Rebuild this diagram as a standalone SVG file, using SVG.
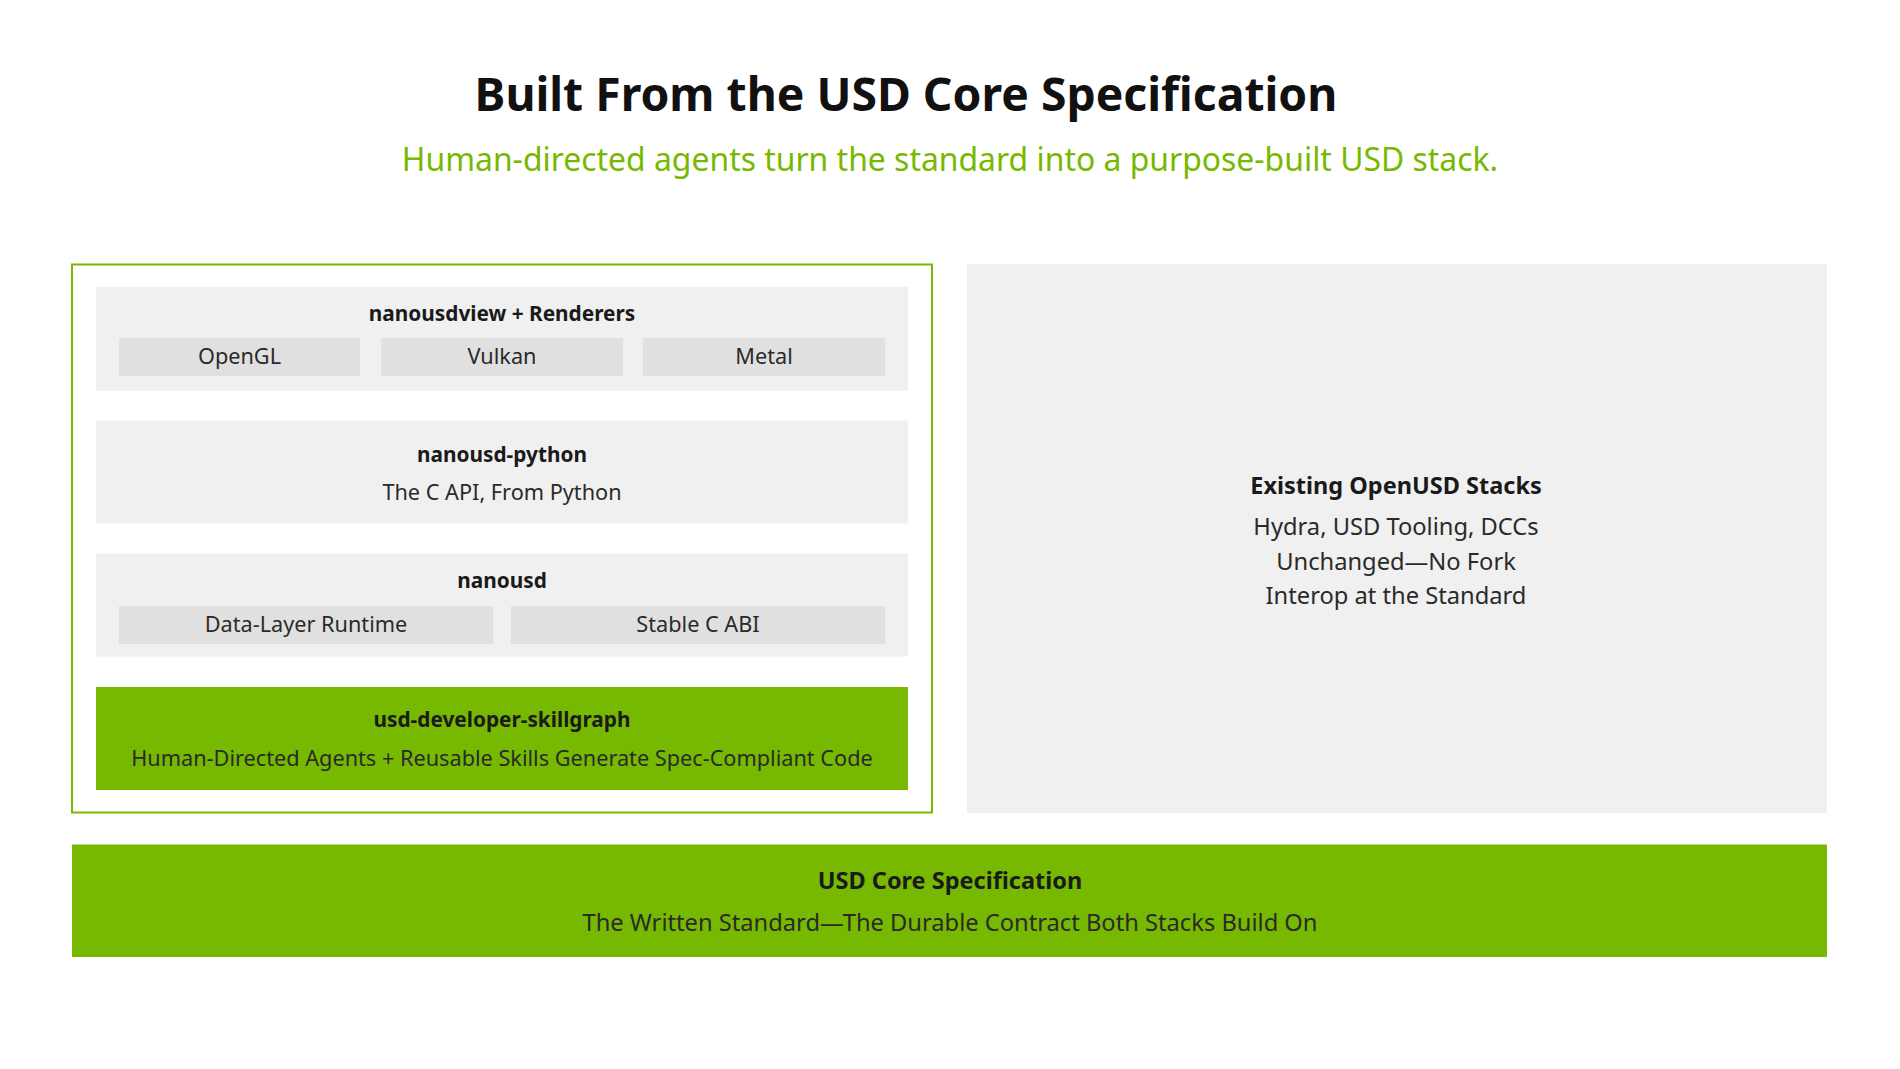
<svg xmlns="http://www.w3.org/2000/svg" width="1900" height="1069" viewBox="0 0 1900 1069">
<style>
text{font-family:"Noto Sans","DejaVu Sans",sans-serif;text-anchor:middle;fill:#1a1a1a}
.title{font-size:46.3px;font-weight:700;fill:#111}
.subtitle{font-size:31.9px;fill:#76b900}
.h{font-size:20.8px;font-weight:700}
.b{font-size:21.7px;fill:#2a2a2a}
.rh{font-size:23.5px;font-weight:700}
.rb{font-size:23.7px;fill:#2a2a2a}
.panel{fill:#f0f0f0}
.chip{fill:#e0e0e0}
.green{fill:#76b900}
</style>
<rect width="1900" height="1069" fill="#ffffff"/>
<g id="header">
<text class="title" x="906" y="111">Built From the USD Core Specification</text>
<text class="subtitle" x="950" y="170.5">Human-directed agents turn the standard into a purpose-built USD stack.</text>
</g>
<g id="nanousd-stack">
<rect x="72" y="264.5" width="860" height="548" fill="none" stroke="#76b900" stroke-width="2"/>
</g>
<g id="nanousdview">
<rect class="panel" x="96" y="287" width="812" height="104"/>
<text class="h" x="502" y="321">nanousdview + Renderers</text>
<rect class="chip" x="119" y="338" width="241" height="38"/>
<text class="b" x="239.5" y="363.5">OpenGL</text>
<rect class="chip" x="381" y="338" width="242" height="38"/>
<text class="b" x="502" y="363.5">Vulkan</text>
<rect class="chip" x="643" y="338" width="242" height="38"/>
<text class="b" x="764" y="363.5">Metal</text>
</g>
<g id="nanousd-python">
<rect class="panel" x="96" y="420.5" width="812" height="103"/>
<text class="h" x="502" y="461.5">nanousd-python</text>
<text class="b" x="502" y="499.5">The C API, From Python</text>
</g>
<g id="nanousd">
<rect class="panel" x="96" y="553.5" width="812" height="103"/>
<text class="h" x="502" y="587.5">nanousd</text>
<rect class="chip" x="119" y="606" width="374" height="38"/>
<text class="b" x="306" y="631.5">Data-Layer Runtime</text>
<rect class="chip" x="511" y="606" width="374" height="38"/>
<text class="b" x="698" y="631.5">Stable C ABI</text>
</g>
<g id="skillgraph">
<rect class="green" x="96" y="687" width="812" height="103"/>
<text class="h" x="502" y="727">usd-developer-skillgraph</text>
<text class="b" x="502" y="766">Human-Directed Agents + Reusable Skills Generate Spec-Compliant Code</text>
</g>
<g id="existing-stacks">
<rect class="panel" x="967" y="264" width="860" height="549"/>
<text class="rh" x="1396" y="493.5">Existing OpenUSD Stacks</text>
<text class="rb" x="1396" y="534.5">Hydra, USD Tooling, DCCs</text>
<text class="rb" x="1396" y="569.5">Unchanged—No Fork</text>
<text class="rb" x="1396" y="604">Interop at the Standard</text>
</g>
<g id="usd-core">
<rect class="green" x="72" y="844.5" width="1755" height="112.5"/>
<text class="rh" x="950" y="888.5">USD Core Specification</text>
<text class="rb" x="950" y="931">The Written Standard—The Durable Contract Both Stacks Build On</text>
</g>
<g id="connectors"/>
</svg>
